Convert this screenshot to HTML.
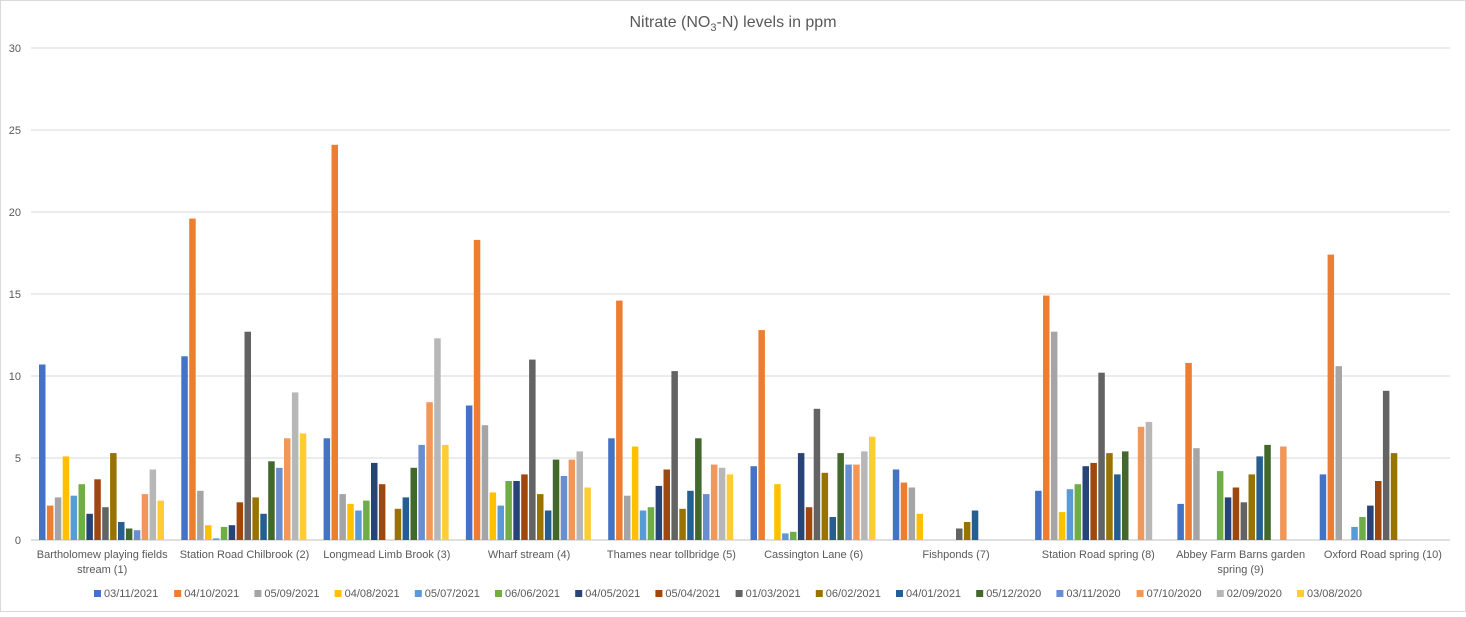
<!DOCTYPE html>
<html><head><meta charset="utf-8"><style>
body{margin:0;background:#fff;}
svg text{font-family:"Liberation Sans",Arial,sans-serif;fill:#595959;}
</style></head><body>
<svg id="c" width="1466" height="612" xmlns="http://www.w3.org/2000/svg"></svg>
<script>
const s=document.getElementById('c');
let h='<rect x="0.5" y="0.5" width="1465" height="611" fill="#fff" stroke="#d9d9d9"/>';
h+='<text x="733" y="27" font-size="16" text-anchor="middle">Nitrate (NO<tspan font-size="11" dy="4">3</tspan><tspan dy="-4">-N) levels in ppm</tspan></text>';
const y0=540,pu=16.4;
for(let i=0;i<=6;i++){const y=y0-i*5*pu;h+=`<line x1="31" x2="1450" y1="${y}" y2="${y}" stroke="${i?'#d9d9d9':'#bfbfbf'}"/>`;h+=`<text x="21" y="${y+4}" font-size="11" text-anchor="end">${i*5}</text>`;}
const col=['#4472C4','#ED7D31','#A5A5A5','#FFC000','#5B9BD5','#70AD47','#264478','#9E480E','#636363','#997300','#255E91','#43682B','#698ED0','#F1975A','#B7B7B7','#FFCD33'];
const d=[
[10.7,2.1,2.6,5.1,2.7,3.4,1.6,3.7,2.0,5.3,1.1,0.7,0.6,2.8,4.3,2.4],
[11.2,19.6,3.0,0.9,0.1,0.8,0.9,2.3,12.7,2.6,1.6,4.8,4.4,6.2,9.0,6.5],
[6.2,24.1,2.8,2.2,1.8,2.4,4.7,3.4,0,1.9,2.6,4.4,5.8,8.4,12.3,5.8],
[8.2,18.3,7.0,2.9,2.1,3.6,3.6,4.0,11.0,2.8,1.8,4.9,3.9,4.9,5.4,3.2],
[6.2,14.6,2.7,5.7,1.8,2.0,3.3,4.3,10.3,1.9,3.0,6.2,2.8,4.6,4.4,4.0],
[4.5,12.8,0,3.4,0.4,0.5,5.3,2.0,8.0,4.1,1.4,5.3,4.6,4.6,5.4,6.3],
[4.3,3.5,3.2,1.6,0,0,0,0,0.7,1.1,1.8,0,0,0,0,0],
[3.0,14.9,12.7,1.7,3.1,3.4,4.5,4.7,10.2,5.3,4.0,5.4,0,6.9,7.2,0],
[2.2,10.8,5.6,0,0,4.2,2.6,3.2,2.3,4.0,5.1,5.8,0,5.7,0,0],
[4.0,17.4,10.6,0,0.8,1.4,2.1,3.6,9.1,5.3,0,0,0,0,0,0]];
const labs=[['Bartholomew playing fields','stream (1)'],['Station Road Chilbrook (2)'],['Longmead Limb Brook (3)'],['Wharf stream (4)'],['Thames near tollbridge (5)'],['Cassington Lane (6)'],['Fishponds (7)'],['Station Road spring (8)'],['Abbey Farm Barns garden','spring (9)'],['Oxford Road spring (10)']];
const gw=142.3;
d.forEach((g,gi)=>{const gx=31+gi*gw;g.forEach((v,i)=>{if(v>0){const hh=v*pu;h+=`<rect x="${(gx+8+i*7.9).toFixed(1)}" y="${(y0-hh).toFixed(1)}" width="6.5" height="${hh.toFixed(1)}" fill="${col[i]}"/>`;}});
labs[gi].forEach((t,li)=>{h+=`<text x="${(gx+gw/2).toFixed(1)}" y="${558+li*15}" font-size="11" text-anchor="middle">${t}</text>`;});});
const ln=['03/11/2021','04/10/2021','05/09/2021','04/08/2021','05/07/2021','06/06/2021','04/05/2021','05/04/2021','01/03/2021','06/02/2021','04/01/2021','05/12/2020','03/11/2020','07/10/2020','02/09/2020','03/08/2020'];
ln.forEach((t,i)=>{const x=95+i*80.2;h+=`<rect x="${x-1}" y="590" width="7" height="7" fill="${col[i]}"/><text x="${x+9}" y="597" font-size="11">${t}</text>`;});
s.innerHTML=h;
</script>
</body></html>
